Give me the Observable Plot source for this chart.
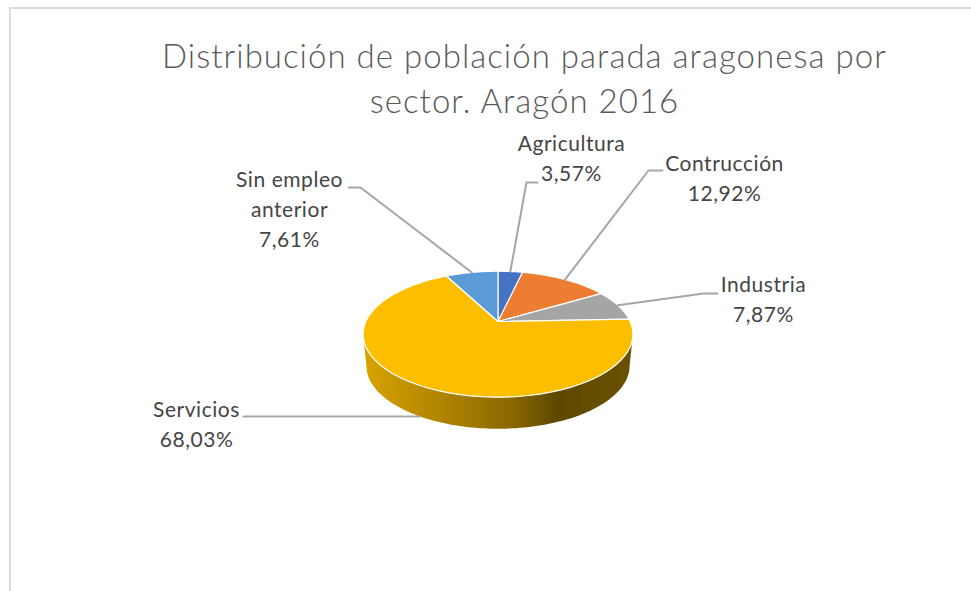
<!DOCTYPE html>
<html><head><meta charset="utf-8">
<script src="https://cdn.jsdelivr.net/npm/d3@7"></script>
<script src="https://cdn.jsdelivr.net/npm/@observablehq/plot@0.6"></script>
<style>
html,body{margin:0;padding:0;background:#fff;overflow:hidden}
#frame{position:absolute;left:9px;top:7px;right:0;bottom:0;border-top:2px solid #dcdcdc;border-left:2px solid #dcdcdc}
#title{position:absolute;left:0;top:33px;width:1049px;text-align:center;font:300 33px/45px Lato,sans-serif;color:#595959;letter-spacing:1.03px}
#chart{position:absolute;left:0;top:130px}
#chart svg{overflow:visible}
</style></head><body>
<div id="frame"></div>
<div id="title">Distribución de población parada aragonesa por<br>sector. Aragón 2016</div>
<div id="chart"></div>
<script>
const sectors = ["Agricultura","Contrucción","Industria","Servicios","Sin empleo anterior"];
const percents = [3.57,12.92,7.87,68.03,7.61];
const labelNames = ["Agricultura","Contrucción","Industria","Servicios","Sin empleo\nanterior"];
const colors = ["#4472C4","#ED7D31","#A5A5A5","#FDBE00","#5B9BD5"];

// Label layout, in page pixels
const labelCenter = [[571,159],[724,179],[763,300],[196,425],[289,210]];
const leaderElbow = [[526,182],[648,170],[703,293],[419,416],[360,187]];
const leaderEnd = [[537,182],[662,170],[717,293],[243,416],[348,187]];

// View of the pie: perspective tilt, and disk-to-page scale
const tilt = 0.2016, depth = 0.523, baseShrink = 0.975;
const top0 = 130;
const xRange = [365.3, 629.7], yRange = [381.4 - top0, 260.6 - top0];
const px2x = d3.scaleLinear(xRange, [-1, 1]);
const px2y = d3.scaleLinear(yRange, [-1, 1]);

const project = (theta, dy = 0, k = 1) => {
  const u = Math.sin(theta), v = Math.cos(theta), w = 1 + tilt * v;
  return {x: k * u / w, y: v / w - dy};
};
const arcs = d3.pie().sort(null)(percents);
const arcSteps = a => d3.range(0, 61).map(i => a.startAngle + (a.endAngle - a.startAngle) * i / 60);

const slicePoints = arcs.flatMap((a, i) => [
  {sector: sectors[i], x: 0, y: 0},
  ...arcSteps(a).map(t => ({sector: sectors[i], ...project(t)}))
]);

const edge = Math.acos(-tilt);
const wallAngles = d3.range(0, 121).map(i => edge + (2 * Math.PI - 2 * edge) * i / 120);
const wallPoints = [
  ...wallAngles.map(t => project(t)),
  ...wallAngles.slice().reverse().map(t => project(t, depth, baseShrink))
];

const leaders = arcs.flatMap((a, i) => {
  const mid = (a.startAngle + a.endAngle) / 2;
  const start = project(mid, sectors[i] === "Servicios" ? depth : 0);
  return [start, leaderElbow[i], leaderEnd[i]].map((p, j) => j === 0
    ? {sector: sectors[i], ...start}
    : {sector: sectors[i], x: px2x(p[0]), y: px2y(p[1] - top0)});
});

const labels = sectors.map((s, i) => ({
  text: labelNames[i] + "\n" + percents[i].toFixed(2).replace(".", ",") + "%",
  x: px2x(labelCenter[i][0]),
  y: px2y(labelCenter[i][1] - 3 - top0)
}));

const gradient = () => {
  const ns = "http://www.w3.org/2000/svg";
  const defs = document.createElementNS(ns, "defs");
  const g = document.createElementNS(ns, "linearGradient");
  g.setAttribute("id", "wall");
  [[0,"#d9a400"],[0.3,"#ad8300"],[0.55,"#8a6800"],[0.72,"#5e4700"],[1,"#6b5100"]].forEach(([o, c]) => {
    const s = document.createElementNS(ns, "stop");
    s.setAttribute("offset", o); s.setAttribute("stop-color", c);
    g.appendChild(s);
  });
  defs.appendChild(g);
  return defs;
};

const chart = Plot.plot({
  width: 971, height: 461,
  style: {letterSpacing: "0.55px"},
  x: {domain: [-1, 1], range: xRange, axis: null},
  y: {domain: [-1, 1], range: yRange, axis: null},
  color: {domain: sectors, range: colors},
  marks: [
    gradient,
    Plot.line(wallPoints, {x: "x", y: "y", fill: "url(#wall)", stroke: "none", curve: "linear-closed"}),
    Plot.line(slicePoints, {x: "x", y: "y", z: "sector", fill: "sector", stroke: "#fff", strokeWidth: 1.2, strokeLinejoin: "round", curve: "linear-closed"}),
    Plot.line(leaders, {x: "x", y: "y", z: "sector", stroke: "#a6a6a6", strokeWidth: 2}),
    Plot.text(labels, {x: "x", y: "y", text: "text", fontFamily: "Lato, sans-serif", fontSize: 21, lineHeight: 1.42, fill: "#454545", textAnchor: "middle"})
  ]
});
document.getElementById("chart").appendChild(chart);
</script>
</body></html>
